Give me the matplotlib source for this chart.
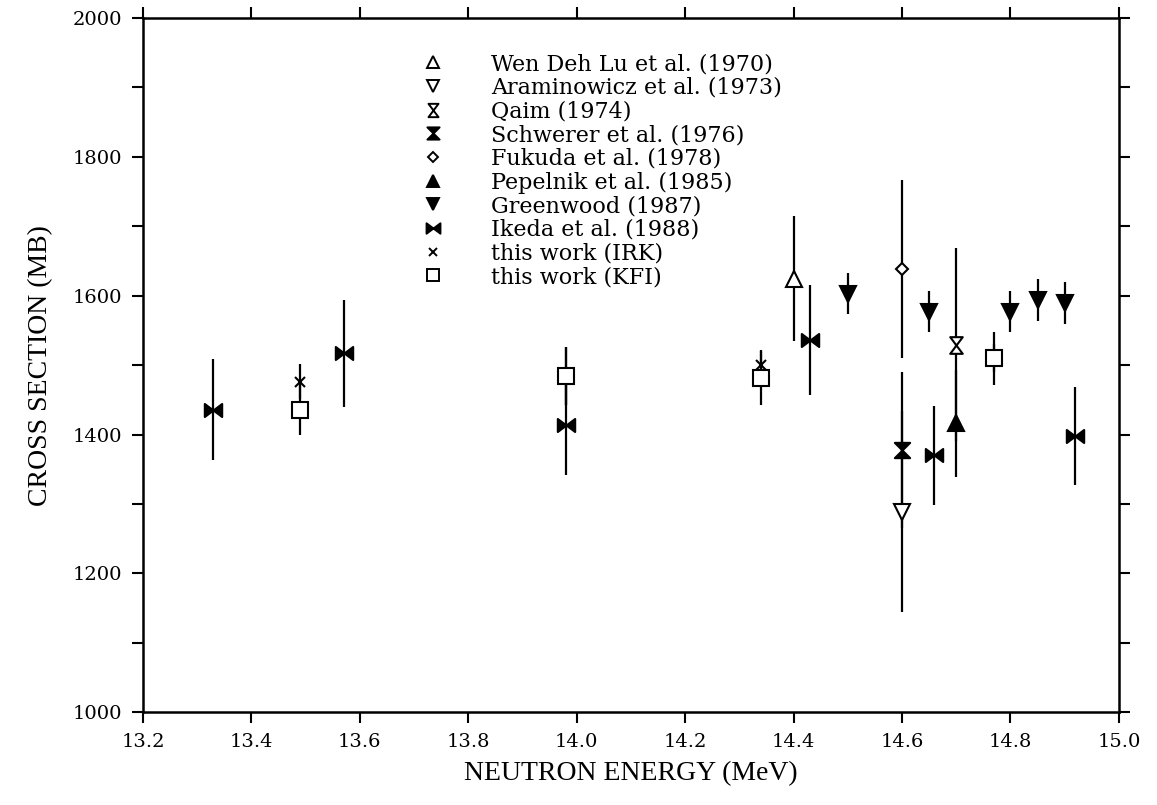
import numpy as np
import matplotlib
matplotlib.use("Agg")
import matplotlib.pyplot as plt
from matplotlib.path import Path
from matplotlib.lines import Line2D
from matplotlib.ticker import MultipleLocator, FormatStrFormatter

# data (energy in MeV, cross section in mb)
wen_x = [14.40]; wen_y = [1624]; wen_e = [90]
aram_x = [14.60]; aram_y = [1289]; aram_e = [145]
qaim_x = [14.70]; qaim_y = [1529]; qaim_e = [139]
schw_x = [14.60]; schw_y = [1378]; schw_e = [112]
fuku_x = [14.60]; fuku_y = [1638]; fuku_e = [128]
pepe_x = [14.70]; pepe_y = [1416]; pepe_e = [77]
green_x = [14.50, 14.65, 14.80, 14.85, 14.90]
green_y = [1603, 1577, 1577, 1594, 1589]
green_e = [30, 30, 30, 30, 30]
ikeda_x = [13.33, 13.57, 13.98, 14.43, 14.66, 14.92]
ikeda_y = [1436, 1517, 1414, 1536, 1370, 1398]
ikeda_e = [73, 77, 72, 79, 71, 71]
irk_x = [13.49, 13.98, 14.34, 14.77]
irk_y = [1476, 1484, 1500, 1510]
irk_e = [25, 42, 21, 20]
kfi_x = [13.49, 13.98, 14.34, 14.77]
kfi_y = [1436, 1484, 1481, 1510]
kfi_e = [37, 42, 39, 38]

labels = ["Wen Deh Lu et al. (1970)", "Araminowicz et al. (1973)", "Qaim (1974)",
          "Schwerer et al. (1976)", "Fukuda et al. (1978)", "Pepelnik et al. (1985)",
          "Greenwood (1987)", "Ikeda et al. (1988)", "this work (IRK)", "this work (KFI)"]

# custom markers
def hourglass(w):
    return Path([(-w, 1), (w, 1), (-w, -1), (w, -1), (-w, 1)],
                [Path.MOVETO, Path.LINETO, Path.LINETO, Path.LINETO, Path.CLOSEPOLY])

bowtie = Path([(-1, 0.75), (-1, -0.75), (1, 0.75), (1, -0.75), (-1, 0.75)],
              [Path.MOVETO, Path.LINETO, Path.LINETO, Path.LINETO, Path.CLOSEPOLY])

# (x, y, err, marker, size, filled)
series = [
    (wen_x, wen_y, wen_e, "^", 11, False),
    (aram_x, aram_y, aram_e, "v", 11, False),
    (qaim_x, qaim_y, qaim_e, hourglass(0.75), 12, False),
    (schw_x, schw_y, schw_e, hourglass(1.0), 11, True),
    (fuku_x, fuku_y, fuku_e, "D", 6.5, False),
    (pepe_x, pepe_y, pepe_e, "^", 11, True),
    (green_x, green_y, green_e, "v", 11, True),
    (ikeda_x, ikeda_y, ikeda_e, bowtie, 12.5, True),
    (irk_x, irk_y, irk_e, "x", 7.5, False),
    (kfi_x, kfi_y, kfi_e, "s", 11, False),
]

fig = plt.figure(figsize=(11.57, 8.05), dpi=100)
ax = fig.add_axes([0.1236, 0.115, 0.8434, 0.863])

handles = []
for (x, y, e, m, ms, filled) in series:
    fc = "black" if filled else "white"
    ax.errorbar(x, y, yerr=e, fmt="none", ecolor="black", elinewidth=1.6, capsize=0)
    ax.plot(x, y, linestyle="none", marker=m, markersize=ms, markerfacecolor=fc,
            markeredgecolor="black", markeredgewidth=1.5, zorder=3)
    # legend symbols are drawn a bit smaller than the data symbols
    handles.append(Line2D([], [], linestyle="none", marker=m, markersize=ms * 0.8,
                          markerfacecolor=fc, markeredgecolor="black", markeredgewidth=1.4))

ax.legend(handles, labels, loc="upper left", bbox_to_anchor=(0.2749, 0.965),
          frameon=False, borderpad=0, handlelength=0.92, handletextpad=2.18,
          labelspacing=0.075, prop={"family": "DejaVu Serif", "size": 16})

ax.set_xlim(13.2, 15.0)
ax.set_ylim(1000, 2000)
ax.xaxis.set_major_locator(MultipleLocator(0.2))
ax.yaxis.set_major_locator(MultipleLocator(200))
ax.yaxis.set_minor_locator(MultipleLocator(100))
ax.xaxis.set_major_formatter(FormatStrFormatter("%.1f"))

ax.tick_params(axis="both", which="both", top=True, right=True, direction="out",
               length=8, width=1.5, labelsize=14, pad=7)
for lab in ax.get_xticklabels() + ax.get_yticklabels():
    lab.set_family("DejaVu Serif")
for s in ax.spines.values():
    s.set_linewidth(1.8)

ax.set_xlabel("NEUTRON ENERGY (MeV)", family="Liberation Serif", fontsize=20, labelpad=7)
ax.set_ylabel("CROSS SECTION (MB)", family="Liberation Serif", fontsize=20, labelpad=14)

fig.savefig("out.png", dpi=100)
